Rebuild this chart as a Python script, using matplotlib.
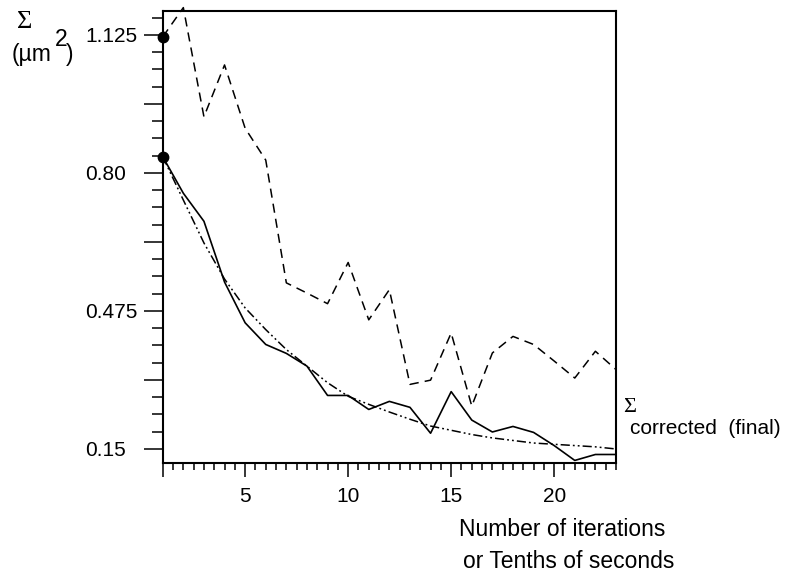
import matplotlib
matplotlib.use("Agg")
import matplotlib.pyplot as plt
import numpy as np
from matplotlib.ticker import MultipleLocator, FixedLocator

plt.rcParams['font.family'] = ['Liberation Sans', 'DejaVu Sans']

# values
n = np.arange(1, 24)
sigma_solid = [0.838, 0.752, 0.686, 0.543, 0.447, 0.396, 0.375, 0.345, 0.276, 0.276,
               0.243, 0.262, 0.248, 0.187, 0.285, 0.218, 0.190, 0.203, 0.189, 0.158,
               0.123, 0.137, 0.137]
sigma_dashed = [1.120, 1.189, 0.932, 1.054, 0.905, 0.830, 0.541, 0.517, 0.492, 0.589,
                0.454, 0.525, 0.302, 0.312, 0.423, 0.251, 0.376, 0.415, 0.396, 0.357,
                0.317, 0.380, 0.337]
sigma_fit = [0.838, 0.736, 0.635, 0.550, 0.482, 0.431, 0.384, 0.345, 0.306, 0.274,
             0.255, 0.237, 0.220, 0.204, 0.194, 0.184, 0.176, 0.170, 0.164, 0.161,
             0.158, 0.155, 0.150]
y_labels = [0.15, 0.475, 0.80, 1.125]
y_label_text = ['0.15', '0.475', '0.80', '1.125']
x_labels = [5, 10, 15, 20]

fig = plt.figure(figsize=(7.85, 5.73), dpi=100)
ax = fig.add_axes([0.2073, 0.192, 0.5774, 0.7888])

ax.plot(n, sigma_solid, color='black', lw=1.2)
ax.plot(n, sigma_dashed, color='black', lw=1.1, dashes=(6, 4), clip_on=False)
ax.plot(n, sigma_fit, color='black', lw=1.1, dashes=(6, 2, 1.2, 2, 1.2, 2))
ax.plot([n[0], n[0]], [sigma_solid[0], sigma_dashed[0]], 'o', color='black',
        ms=7.5, clip_on=False, zorder=5)

ax.set_xlim(1, 23)
ax.set_ylim(0.117, 1.181)

ax.xaxis.set_major_locator(FixedLocator([1] + x_labels))
ax.set_xticklabels([''] + [str(v) for v in x_labels])
ax.xaxis.set_minor_locator(MultipleLocator(0.5))

step = 0.040625
major_y = [0.15 + 4 * step * k for k in range(7)]
minor_y = [0.15 + step * k for k in range(-1, 27) if 0.117 <= 0.15 + step * k <= 1.181]
ax.yaxis.set_major_locator(FixedLocator(major_y))
ax.set_yticklabels([y_label_text[y_labels.index(v)] if any(abs(v - y) < 1e-6 for y in y_labels) else ''
                    for v in [round(m, 4) for m in major_y]])
ax.yaxis.set_minor_locator(FixedLocator(minor_y))

ax.tick_params(axis='y', which='major', length=13.5, width=1.1, labelsize=15, pad=42.5)
ax.tick_params(axis='y', which='minor', length=8, width=1.1)
ax.tick_params(axis='x', which='major', length=10, width=1.1, labelsize=15, pad=7)
ax.tick_params(axis='x', which='minor', length=5, width=1.1)
for lab in ax.get_yticklabels():
    lab.set_horizontalalignment('left')

for s in ax.spines.values():
    s.set_linewidth(1.5)

# axis annotations
fig.text(17 / 785, 1 - 22 / 573, 'Σ', family='Liberation Serif', fontsize=19, va='center')
fig.text(12 / 785, 1 - 55 / 573, '(µm', fontsize=16.5, va='center')
fig.text(55 / 785, 1 - 40 / 573, '2', fontsize=16.5, va='center')
fig.text(66 / 785, 1 - 55 / 573, ')', fontsize=16.5, va='center')

fig.text(623 / 785, 1 - 407 / 573, 'Σ', family='Liberation Serif', fontsize=16, va='center')
fig.text(630 / 785, 1 - 429 / 573, 'corrected  (final)', fontsize=15, va='center')

fig.text(459 / 785, 1 - 529 / 573, 'Number of iterations', fontsize=16.5, va='center')
fig.text(463 / 785, 1 - 561 / 573, 'or Tenths of seconds', fontsize=16.5, va='center')

fig.savefig('out.png', dpi=100)
